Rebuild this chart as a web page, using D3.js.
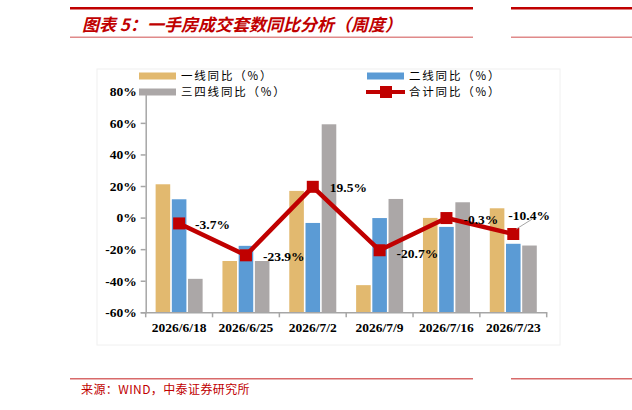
<!DOCTYPE html>
<html><head><meta charset="utf-8">
<script src="https://cdn.jsdelivr.net/npm/d3@7"></script>
<style>body{margin:0;background:#fff;} svg{display:block;}</style>
</head><body>
<svg id="c" width="632" height="410"></svg>
<script>
const categories = ["2026/6/18","2026/6/25","2026/7/2","2026/7/9","2026/7/16","2026/7/23"];
const tier1 = [21.1, -27.5, 16.9, -42.8, -0.2, 5.9];
const tier2 = [11.6, -17.9, -3.4, -0.3, -5.9, -16.6];
const tier34 = [-38.8, -27.5, 59.1, 11.8, 9.7, -17.7];
const total = [-3.7, -23.9, 19.5, -20.7, -0.3, -10.4];
const totalLabels = ["-3.7%","-23.9%","19.5%","-20.7%","-0.3%","-10.4%"];
const yTicks = [-60,-40,-20,0,20,40,60,80];
const seriesNames = ["一线同比（%）","二线同比（%）","三四线同比（%）","合计同比（%）"];
const colors = ["#e2b96f","#5b9bd5","#aba7a7","#c00000"];

const svg = d3.select("#c");
const red = "#c00000";

function hline(y, w, c){
  svg.append("rect").attr("x",70).attr("y",y).attr("width",403).attr("height",w).attr("fill",c);
  svg.append("rect").attr("x",511).attr("y",y).attr("width",121).attr("height",w).attr("fill",c);
}
hline(7,2.5,red);
hline(36.5,1.5,"#e08a8a");
hline(378,1.5,"#d86a6a");

svg.append("text").attr("x",82).attr("y",31)
  .attr("font-family","'Noto Sans CJK SC'").attr("font-size",17).attr("font-weight","bold")
  .attr("font-style","italic").attr("fill",red).text("图表 5：一手房成交套数同比分析（周度）");
svg.append("text").attr("x",81).attr("y",394)
  .attr("font-family","'Noto Sans CJK SC'").attr("font-size",12).attr("letter-spacing",0.4)
  .attr("fill",red).text("来源：WIND，中泰证券研究所");

svg.append("rect").attr("x",97).attr("y",69).attr("width",463).attr("height",276)
  .attr("fill","none").attr("stroke","#f0f0f0");

const y = d3.scaleLinear().domain([-60,80]).range([312.3,91.3]);
const x = d3.scaleBand().domain(categories).range([145.7,546.7]).padding(0);
const inner = d3.scaleBand().domain([0,1,2]).range([-23.5,23.5]).paddingInner(0.1);

const allSeries = [tier1,tier2,tier34];
allSeries.forEach((s,si)=>{
  svg.append("g").selectAll("rect").data(s).join("rect")
    .attr("x",(d,i)=>x(categories[i])+x.bandwidth()/2+inner(si))
    .attr("width",inner.bandwidth())
    .attr("y",d=>y(d))
    .attr("height",d=>y(-60)-y(d))
    .attr("fill",colors[si]);
});

const ya = svg.append("g").attr("transform","translate(145.7,0)")
  .call(d3.axisLeft(y).tickValues(yTicks).tickSize(5).tickFormat(d=>d+"%"));
const xa = svg.append("g").attr("transform",`translate(0,${y(-60)})`)
  .call(d3.axisBottom(x).tickSize(0).tickPadding(10));
[ya,xa].forEach(a=>{
  a.select(".domain").attr("stroke","#a6a6a6").attr("stroke-width",1.5);
  a.selectAll(".tick line").attr("stroke","#a6a6a6").attr("stroke-width",1.5);
  a.selectAll("text").attr("font-family","'Liberation Serif'").attr("font-weight","bold")
    .attr("font-size",13.5).attr("fill","#000");
});
ya.selectAll(".tick text").attr("dx",-1);
const bounds = categories.map(c=>x(c)).concat([x.range()[1]]);
svg.append("g").selectAll("line").data(bounds).join("line")
  .attr("x1",d=>d).attr("x2",d=>d).attr("y1",y(-60)).attr("y2",y(-60)+5)
  .attr("stroke","#a6a6a6").attr("stroke-width",1.5);

const cx = (i)=>x(categories[i])+x.bandwidth()/2;
const line = d3.line().x((d,i)=>cx(i)).y(d=>y(d));
svg.append("path").datum(total).attr("d",line).attr("fill","none")
  .attr("stroke",red).attr("stroke-width",4.5).attr("stroke-linejoin","round");
svg.append("g").selectAll("rect").data(total).join("rect")
  .attr("x",(d,i)=>cx(i)-6).attr("y",d=>y(d)-6).attr("width",12).attr("height",12)
  .attr("fill",red);

const lblOff = [[16,6],[17,6],[17,5],[17,8],[17,6],[-5,-14]];
svg.append("line").attr("x1",cx(5)+3).attr("y1",y(total[5])-5).attr("x2",cx(5)+19).attr("y2",y(total[5])-15)
  .attr("stroke","#a6a6a6").attr("stroke-width",1);
svg.append("g").selectAll("text").data(totalLabels).join("text")
  .attr("x",(d,i)=>cx(i)+lblOff[i][0]).attr("y",(d,i)=>y(total[i])+lblOff[i][1])
  .attr("font-family","'Liberation Serif'").attr("font-weight","bold").attr("font-size",13.5)
  .attr("fill","#000").text(d=>d);

const lg = svg.append("g").attr("font-family","'Noto Sans CJK SC'").attr("font-size",11.5).attr("fill","#000");
const legPos = [[139,76],[367,76],[139,92],[367,92]];
legPos.forEach((p,i)=>{
  if(i<3){
    lg.append("rect").attr("x",p[0]).attr("y",p[1]-3.5).attr("width",37).attr("height",7).attr("fill",colors[i]);
  } else {
    lg.append("line").attr("x1",p[0]-1).attr("x2",p[0]+38).attr("y1",p[1]).attr("y2",p[1])
      .attr("stroke",red).attr("stroke-width",4);
    lg.append("rect").attr("x",p[0]+13).attr("y",p[1]-6).attr("width",12).attr("height",12).attr("fill",red);
  }
  lg.append("text").attr("x",p[0]+42).attr("y",p[1]+4).attr("letter-spacing",1.8).text(seriesNames[i]);
});
</script>
</body></html>
